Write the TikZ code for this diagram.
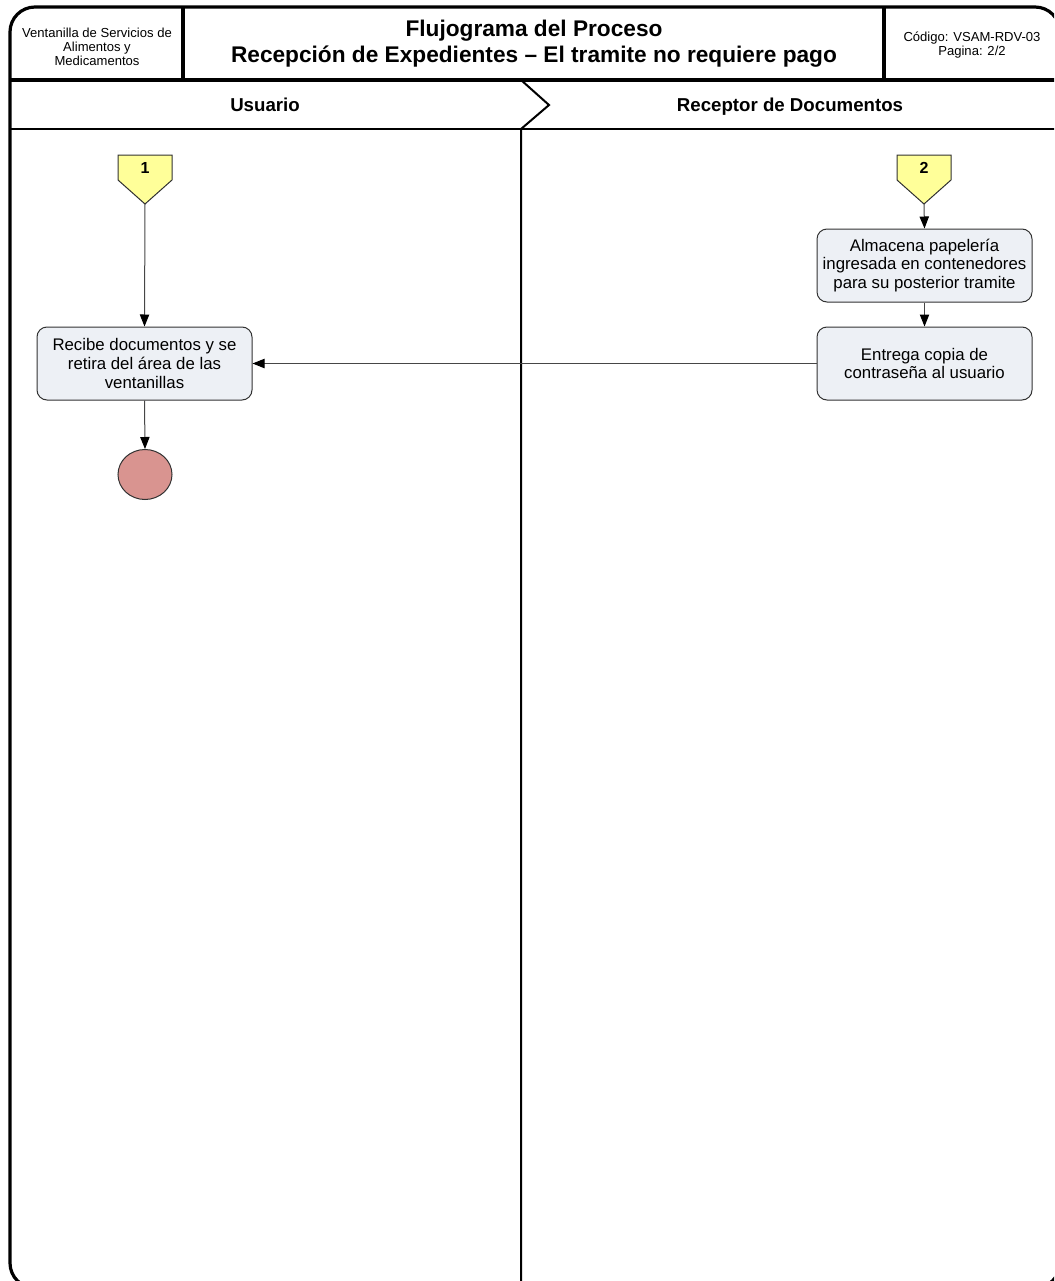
\documentclass[tikz,border=0pt]{standalone}
\usepackage{fontspec}
\setmainfont{Liberation Sans}
\usetikzlibrary{arrows.meta,calc,backgrounds,shapes.geometric}
\definecolor{taskfill}{RGB}{237,240,245}
\definecolor{connfill}{RGB}{255,255,153}
\definecolor{endfill}{RGB}{217,148,144}
\definecolor{flowline}{RGB}{70,70,70}
\definecolor{boxline}{RGB}{50,50,50}

\begin{document}
\begin{tikzpicture}[x=0.75pt,y=-0.75pt,
  frameline/.style={draw=black, line width=2.4pt},
  laneline/.style={draw=black, line width=1.5pt},
  headsmall/.style={align=center, font=\fontsize{9.8}{10.5}\selectfont, inner sep=0pt},
  headtitle/.style={align=center, font=\fontsize{17}{19.5}\selectfont\bfseries, inner sep=0pt},
  lanelabel/.style={font=\fontsize{14}{16}\selectfont\bfseries, inner sep=0pt, anchor=base},
  task/.style={draw=boxline, line width=0.75pt, fill=taskfill, rounded corners=7.5pt,
    minimum width=161.25pt, minimum height=54.75pt, align=center, inner sep=0pt,
    font=\fontsize{12.6}{13.9}\selectfont},
  pagelink/.style={minimum width=40.5pt, minimum height=18.75pt, inner sep=0pt,
    font=\fontsize{12}{14}\selectfont\bfseries},
  linkshape/.style={draw=boxline, line width=0.75pt, fill=connfill},
  endnode/.style={ellipse, draw=boxline, line width=0.75pt, fill=endfill,
    minimum width=40.5pt, minimum height=37.5pt, inner sep=0pt},
  flow/.style={draw=flowline, line width=0.75pt,
    -{Triangle[length=9pt,width=7pt,color=black]}}]

\useasboundingbox (0,0) rectangle (1054,1281);
\clip (0,0) rectangle (1054,1281);

% outer frame, header row and swimlane heads
\draw[frameline, rounded corners=18.75pt] (10,7) rectangle (1060,1288);
\draw[frameline] (183,7) -- (183,80);
\draw[frameline] (884,7) -- (884,80);
\draw[frameline] (10,80) -- (1060,80);
\draw[laneline] (10,129) -- (1060,129);
\draw[laneline] (521,80) -- (549,105) -- (521,129) -- (521,1290);

% header texts
\node[headsmall] (org) at (97,47) {Ventanilla de Servicios de\\Alimentos y\\Medicamentos};
\node[headtitle] (title) at (534,44) {Flujograma del Proceso\\Recepción de Expedientes – El tramite no requiere pago};
\node[headsmall] (code) at (972,45) {Código: VSAM-RDV-03\\Pagina: 2/2};

% lane names
\node[lanelabel] (laneU) at (265,111) {Usuario};
\node[lanelabel] (laneR) at (790,111) {Receptor de Documentos};

% off-page connectors
\begin{scope}[on background layer]
  \draw[linkshape] (118,155) -- (172,155) -- (172,180) -- (145,204) -- (118,180) -- cycle;
  \draw[linkshape] (897,155) -- (951,155) -- (951,180) -- (924,204) -- (897,180) -- cycle;
\end{scope}
\node[pagelink] (link1) at (145,168) {1};
\node[pagelink] (link2) at (924,168) {2};
\coordinate (link1tip) at (145,204);
\coordinate (link2tip) at (924,204);

% activities
\node[task] (store) at (924.5,265.5) {Almacena papelería\\ingresada en contenedores\\para su posterior tramite};
\node[task] (hand) at (924.5,363.5) {Entrega copia de\\contraseña al usuario};
\node[task] (recv) at (144.5,363.5) {Recibe documentos y se\\retira del área de las\\ventanillas};
\node[endnode] (finish) at (145,474.5) {};

% flow connectors
\draw[flow] (link1tip) -- (recv.north);
\draw[flow] (recv.south) -- (finish.north);
\draw[flow] (link2tip) -- (store.north);
\draw[flow] (store.south) -- (hand.north);
\draw[flow] (hand.west) -- (recv.east);
\end{tikzpicture}
\end{document}
